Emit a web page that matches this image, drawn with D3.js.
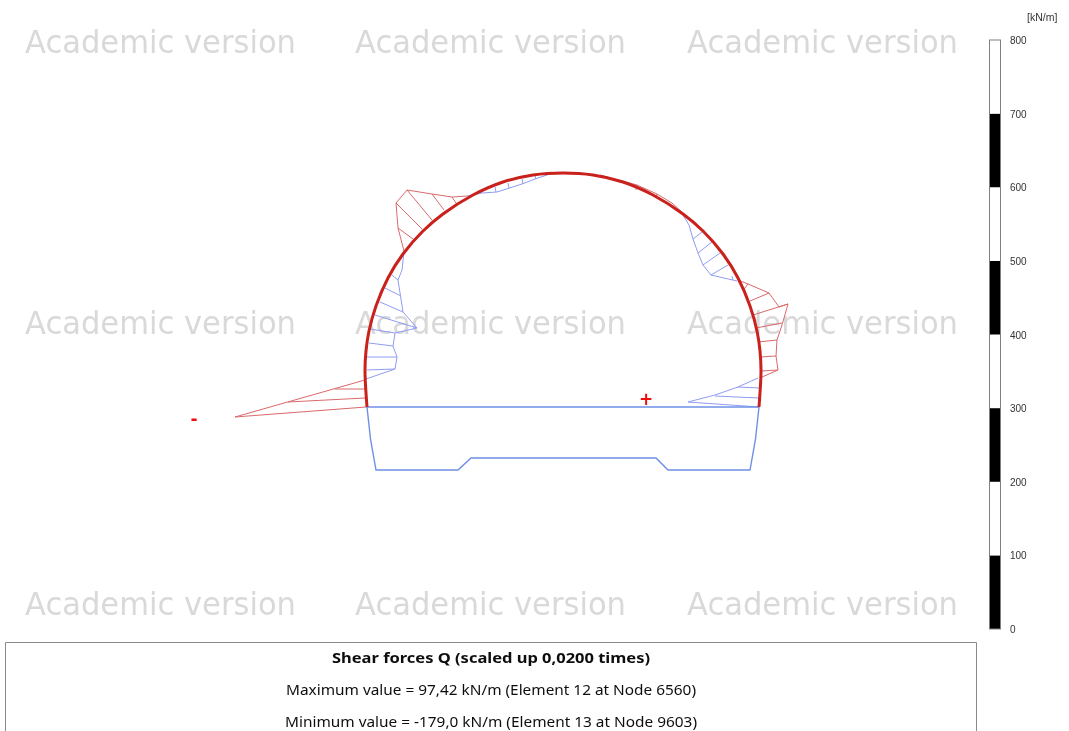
<!DOCTYPE html>
<html><head><meta charset="utf-8">
<script src="https://cdn.jsdelivr.net/npm/d3@7"></script>
<style>html,body{margin:0;padding:0;background:#fff}svg{display:block}</style>
</head><body><div id="chart"></div>
<script>
// Geometry in model units, origin at the middle of the slab line
const lining = [[-196,0],[-198,36],[-197,56],[-194,76],[-187,101],[-175,129],[-160,153],[-140,176],[-120,193],[-90,212],[-60,225],[-30,232],[0,234],[30,232],[60,225],[90,212],[120,193],[140,176],[160,153],[175,129],[187,101],[194,76],[197,56],[198,36],[196,0]];
const slabLine = [[-197,0],[196,0]];
const invert = [[-196,0],[-192.5,-32],[-187,-63],[-105,-63],[-92,-51],[93,-51],[105,-63],[187,-63],[192.5,-32],[196,0]];
const negativeOutlines = [
  [[-197,0],[-328,-10],[-198,27]],
  [[-159,156],[-165,179],[-167,204],[-156,217],[-131,213],[-111,210],[-96,211]],
  [[37,232],[74,222],[94,213],[109,204],[120,194]],
  [[175,127],[185,123],[206,114],[216,100],[225,103],[219,82],[214,67],[213,51],[215,37],[199,30]]
];
const negativeHatch = [
  [-198,9,-275,5],[-198,18,-228,18],
  [-165,179,-150,168],[-167,204,-141,178],[-156,217,-131,187],[-131,213,-119,197],[-111,210,-107,204],
  [74,222,73,217],[94,213,93,209],
  [181,118,185,123],[187,106,206,114],[190,92,225,103],[193,79,219,84],[195,65,214,67],[197,50,213,51],[198,36,215,37]
];
const positiveOutlines = [
  [[-197,28],[-168,38],[-166,50],[-170,61],[-168,74],[-146,79],[-160,95],[-165,127],[-161,137],[-159,156]],
  [[-96,211],[-81,214],[-66,215],[-41,223],[-28,228],[-13,233]],
  [[120,192],[126,182],[130,168],[135,154],[140,142],[148,132],[174,126]],
  [[195,29],[175,20],[152,12],[125,5],[196,0]]
];
const positiveHatch = [
  [-196,37,-168,38],[-196,50,-166,50],[-194,64,-170,61],[-193,78,-168,74],[-188,92,-146,79],[-183,105,-160,95],[-178,119,-162,111],[-171,132,-165,127],
  [-82,214,-83,217],[-67,215,-68,220],[-54,219,-55,224],[-40,223,-41,228],[-27,228,-28,231],
  [130,168,139,175],[135,154,149,165],[140,142,157,154],[148,132,165,142],[170,127,169,131],
  [175,20,197,19],[152,11,196,9]
];
const legendTicks = [0,100,200,300,400,500,600,700,800];
const watermarkText = "Academic version";
const watermarkCols = [25,355,687];
const watermarkRows = [53,334,615];
const unitLabel = "[kN/m]";
const titleText = "Shear forces Q (scaled up 0,0200 times)";
const maxText = "Maximum value = 97,42 kN/m (Element 12 at Node 6560)";
const minText = "Minimum value = -179,0 kN/m (Element 13 at Node 9603)";
const signMarks = [{t:"+",x:83,y:2},{t:"-",x:-369,y:-18}];

const W=1069,H=731;
const svg=d3.select("#chart").append("svg").attr("width",W).attr("height",H).attr("viewBox",[0,0,W,H]);
svg.append("defs").append("filter").attr("id","soft").append("feGaussianBlur").attr("stdDeviation",0.35);
const root=svg.append("g").attr("filter","url(#soft)");
const x=d3.scaleLinear().domain([-563,506]).range([0,1069]);
const y=d3.scaleLinear().domain([407,-324]).range([0,731]);
const line=d3.line().x(d=>x(d[0])).y(d=>y(d[1]));

// watermark
const wm=root.append("g").attr("fill","#d9d9d9").attr("font-family","'DejaVu Sans'").attr("font-size",31.5);
watermarkRows.forEach(r=>watermarkCols.forEach(c=>{
  wm.append("text").attr("x",c).attr("y",r).attr("textLength",271).attr("lengthAdjust","spacingAndGlyphs").text(watermarkText);
}));

// diagram
const RED="#d9696b", BLUE="#8f9bf4";
function diagram(outlines,hatch,col){
  const g=root.append("g").attr("fill","none").attr("stroke",col).attr("stroke-width",1);
  g.selectAll("path").data(outlines).join("path").attr("d",line);
  g.selectAll("line").data(hatch).join("line")
    .attr("x1",d=>x(d[0])).attr("y1",d=>y(d[1])).attr("x2",d=>x(d[2])).attr("y2",d=>y(d[3]));
}
diagram(negativeOutlines,negativeHatch,RED);
diagram(positiveOutlines,positiveHatch,BLUE);

root.append("path").datum(slabLine).attr("d",line).attr("fill","none").attr("stroke","#6d8fe6").attr("stroke-width",1.4);
root.append("path").datum(invert).attr("d",line).attr("fill","none").attr("stroke","#6d8fe6").attr("stroke-width",1.4);
root.append("path").datum(lining).attr("d",d3.line().x(d=>x(d[0])).y(d=>y(d[1])).curve(d3.curveCatmullRom))
  .attr("fill","none").attr("stroke","#c9201c").attr("stroke-width",3);

root.selectAll("text.sign").data(signMarks).join("text").attr("class","sign")
  .attr("x",d=>x(d.x)).attr("y",d=>y(d.y)).attr("text-anchor","middle").attr("fill","#f01010")
  .attr("font-family","'DejaVu Sans'").attr("font-weight","bold").attr("font-size",17).text(d=>d.t);

// legend
const lx0=989, lw=12;
const ly=d3.scaleLinear().domain([0,800]).range([629,40]);
root.append("g").selectAll("rect").data(d3.pairs(legendTicks)).join("rect")
  .attr("x",lx0).attr("width",lw).attr("y",d=>ly(d[1])).attr("height",d=>ly(d[0])-ly(d[1]))
  .attr("fill",(d,i)=>i%2===0?"#000":"#fff");
root.append("rect").attr("x",lx0+.5).attr("y",ly(800)).attr("width",lw-1).attr("height",ly(0)-ly(800))
  .attr("fill","none").attr("stroke","#808080").attr("stroke-width",1);
root.append("g").selectAll("text").data(legendTicks).join("text")
  .attr("x",1010).attr("y",d=>ly(d)+4).attr("font-family","'Liberation Sans'").attr("font-size",10).attr("fill","#333").text(d=>d);
root.append("text").attr("x",1027).attr("y",21).attr("font-family","'Liberation Sans'").attr("font-size",10.5).attr("fill","#333").text(unitLabel);

// info box
root.append("path").attr("d","M5.5,735V642.5H976.5V735").attr("fill","none").attr("stroke","#8a8a8a").attr("stroke-width",1);
const info=root.append("g").attr("text-anchor","middle").attr("font-family","'Noto Sans'").attr("fill","#111");
info.append("text").attr("x",491).attr("y",663).attr("font-weight","bold").attr("font-size",15).attr("textLength",318).attr("lengthAdjust","spacingAndGlyphs").text(titleText);
info.append("text").attr("x",491).attr("y",695).attr("font-size",15).attr("textLength",410).attr("lengthAdjust","spacingAndGlyphs").text(maxText);
info.append("text").attr("x",491).attr("y",727).attr("font-size",15).attr("textLength",412).attr("lengthAdjust","spacingAndGlyphs").text(minText);
</script></body></html>
